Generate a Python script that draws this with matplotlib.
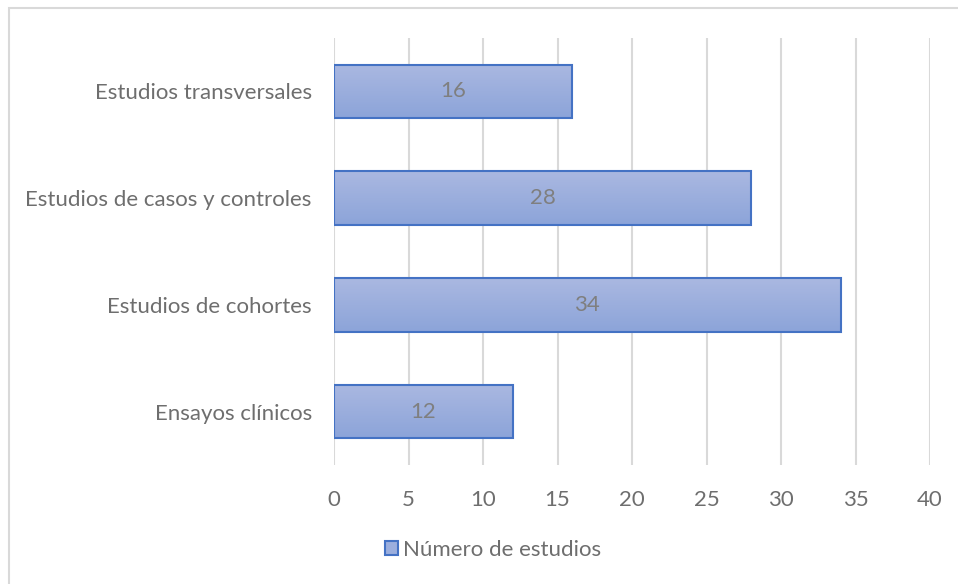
import matplotlib
matplotlib.use("Agg")
import matplotlib.pyplot as plt
import numpy as np
from matplotlib.patches import Rectangle

categories = ["Ensayos clínicos", "Estudios de cohortes",
              "Estudios de casos y controles", "Estudios transversales"]
values = [12, 34, 28, 16]
xticks = [0, 5, 10, 15, 20, 25, 30, 35, 40]

EDGE = "#4472C4"
TXT = "#6E6E6E"
plt.rcParams["font.family"] = ["Lato", "DejaVu Sans"]

fig = plt.figure(figsize=(9.58, 5.84), dpi=100)
ax = fig.add_axes([334 / 958, 1 - 465 / 584, 596 / 958, 427 / 584])

# chart frame (light grey, running off the right/bottom edges)
fig.patches.append(Rectangle((9 / 958, -0.05), 1.1, 1 - 8 / 584 + 0.05,
                             transform=fig.transFigure, fill=False,
                             edgecolor="#D9D9D9", lw=1.5))

y = np.arange(len(categories))
bars = ax.barh(y, values, height=0.5, color="none", edgecolor=EDGE, lw=1.5, zorder=3)
grad = np.linspace(0, 1, 100).reshape(-1, 1)
cmap = matplotlib.colors.LinearSegmentedColormap.from_list("g", ["#8CA4D9", "#AAB8E1"])
for b, v in zip(bars, values):
    x0, y0 = b.get_x(), b.get_y()
    im = ax.imshow(grad, cmap=cmap, aspect="auto", origin="lower",
                   extent=(x0, x0 + b.get_width(), y0, y0 + b.get_height()), zorder=2)
    im.set_clip_path(b)
    ax.text(v / 2, b.get_y() + b.get_height() / 2, f"{v}", ha="center", va="center",
            color="#7F7F7F", fontsize=16, zorder=4)

ax.set_xlim(0, 40)
ax.set_ylim(-0.5, 3.5)
ax.set_xticks(xticks)
ax.set_yticks(y, categories)
ax.tick_params(length=0, labelsize=16, labelcolor=TXT)
ax.tick_params(axis="x", pad=18)
ax.tick_params(axis="y", pad=16)
ax.grid(axis="x", color="#D9D9D9", lw=1.5, zorder=0)
ax.set_axisbelow(True)
for s in ax.spines.values():
    s.set_visible(False)

handle = Rectangle((0, 0), 1, 1, facecolor="#9BAEDD", edgecolor=EDGE, lw=1.5)
fig.legend([handle], ["Número de estudios"], loc="center", bbox_to_anchor=(493 / 958, 1 - 550 / 584),
           frameon=False, fontsize=16, labelcolor=TXT, handlelength=0.6, handleheight=0.6,
           handletextpad=0.2)

fig.savefig("out.png", dpi=100)
